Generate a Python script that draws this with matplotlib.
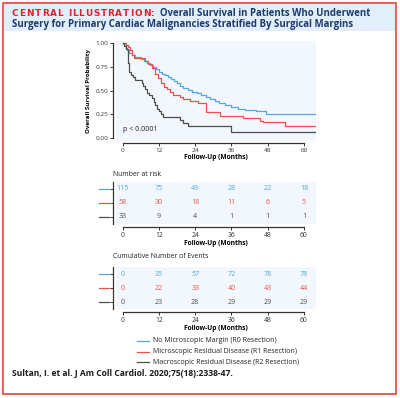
import matplotlib
matplotlib.use("Agg")
import matplotlib.pyplot as plt
from matplotlib.patches import Rectangle
from matplotlib.lines import Line2D
from matplotlib.transforms import blended_transform_factory

# ---------------- data ----------------
groups = ["No Microscopic Margin (R0 Resection)",
          "Microscopic Residual Disease (R1 Resection)",
          "Macroscopic Residual Disease (R2 Resection)"]

r0_time = [0, 0.5, 1.0, 1.5, 2.0, 3.0, 4.0, 5.0, 6.0, 7.0, 8.0, 9.0, 10.0, 11.0, 12.0,
           13.0, 14.0, 15.0, 16.0, 17.0, 18.0, 19.0, 20.0, 21.5, 23.0, 24.5, 26.0, 27.5,
           29.0, 30.5, 32.0, 34.0, 36.0, 38.0, 40.5, 44.0, 47.5, 64.0]
r0_surv = [1.0, 0.98, 0.95, 0.93, 0.90, 0.88, 0.86, 0.85, 0.83, 0.81, 0.79, 0.77, 0.75, 0.73, 0.70,
           0.68, 0.66, 0.64, 0.62, 0.60, 0.58, 0.55, 0.53, 0.51, 0.49, 0.47, 0.45, 0.43,
           0.41, 0.39, 0.37, 0.35, 0.33, 0.31, 0.295, 0.28, 0.255, 0.255]

r1_time = [0, 1.0, 1.8, 2.4, 3.0, 3.8, 7.4, 8.5, 9.6, 10.8, 11.8, 12.6, 13.8, 14.6, 15.5,
           16.6, 18.8, 20.0, 22.2, 24.9, 27.5, 32.2, 39.9, 45.4, 46.5, 53.6, 64.0]
r1_surv = [1.0, 0.983, 0.965, 0.93, 0.877, 0.84, 0.816, 0.78, 0.736, 0.68, 0.63, 0.58, 0.54, 0.514, 0.49,
           0.454, 0.43, 0.41, 0.39, 0.367, 0.278, 0.232, 0.208, 0.183, 0.166, 0.13, 0.13]

r2_time = [0, 0.5, 1.0, 1.9, 2.0, 2.6, 3.3, 4.0, 6.3, 6.8, 7.3, 8.0, 8.8, 9.6, 10.2, 10.8,
           11.4, 12.0, 12.8, 13.4, 18.9, 19.8, 21.7, 36.0, 64.0]
r2_surv = [1.0, 0.97, 0.94, 0.79, 0.70, 0.67, 0.64, 0.61, 0.58, 0.55, 0.52, 0.48, 0.45, 0.42, 0.38, 0.35,
           0.31, 0.28, 0.25, 0.22, 0.19, 0.16, 0.13, 0.065, 0.065]

time_ticks = [0, 12, 24, 36, 48, 60]
surv_ticks = [0.0, 0.25, 0.50, 0.75, 1.00]
surv_ticklabels = ["0.00", "0.25", "0.50", "0.75", "1.00"]

at_risk = [[115, 75, 49, 28, 22, 18],
           [58, 30, 18, 11, 6, 5],
           [33, 9, 4, 1, 1, 1]]
cum_events = [[0, 35, 57, 72, 78, 78],
              [0, 22, 33, 40, 43, 44],
              [0, 23, 28, 29, 29, 29]]

p_text = "p < 0.0001"
title_red = "CENTRAL ILLUSTRATION:"
title_l1 = "Overall Survival in Patients Who Underwent"
title_l2 = "Surgery for Primary Cardiac Malignancies Stratified By Surgical Margins"
citation = "Sultan, I. et al. J Am Coll Cardiol. 2020;75(18):2338-47."

# ---------------- style ----------------
colors = ["#58a6df", "#e8544c", "#4f4f4f"]
panel_bg = "#f1f7fc"
title_bg = "#e2eef9"
frame_red = "#e2564a"
dark_blue = "#1d3b6e"
FONT = "Open Sans"
plt.rcParams["font.family"] = [FONT, "DejaVu Sans"]

W, H = 400, 398
fig = plt.figure(figsize=(W / 100, H / 100), dpi=100)
renderer = fig.canvas.get_renderer()


def rect(l, t, r, b):
    return [l / W, 1 - b / H, (r - l) / W, (b - t) / H]


def ftext(x, y, s, **kw):
    return fig.text(x / W, 1 - y / H, s, **kw)


# frame & title background
fig.patches.append(Rectangle((4 / W, 1 - 31 / H), 392 / W, 27 / H, transform=fig.transFigure,
                             facecolor=title_bg, edgecolor="none", zorder=0))
fig.patches.append(Rectangle((3 / W, 1 - 394 / H), 393 / W, 391 / H, transform=fig.transFigure,
                             facecolor="none", edgecolor=frame_red, linewidth=1.3, zorder=5))

# letter-spaced red heading
red_kw = dict(color="#d8242b", fontsize=6.4, fontweight="bold", va="center", family="DejaVu Sans")
chars = []
widths = []
for ch in title_red:
    t = ftext(0, 13, ch, **red_kw)
    chars.append(t)
    if ch == " ":
        widths.append(renderer.points_to_pixels(6.4) * 0.32)
    else:
        widths.append(t.get_window_extent(renderer).width)
target = 143.0
gap = (target - sum(widths)) / (len(title_red) - 1)
x = 12.0
for t, w in zip(chars, widths):
    t.set_x(x / W)
    x += w + gap

ftext(160, 13, title_l1, color=dark_blue, fontsize=6.9, fontweight="bold", va="center")
ftext(12, 25, title_l2, color=dark_blue, fontsize=6.9, fontweight="bold", va="center")

# ---------------- KM plot ----------------
px_per_month = (304 - 122.7) / 60.0
x_lo = (116 - 122.7) / px_per_month
x_hi = (316 - 122.7) / px_per_month

ax = fig.add_axes(rect(116, 41, 316, 141))
ax.set_facecolor(panel_bg)
for t, s, c in zip([r0_time, r1_time, r2_time], [r0_surv, r1_surv, r2_surv], colors):
    ax.step(t, s, where="post", color=c, linewidth=0.9)
ax.set_xlim(x_lo, x_hi)
ax.set_ylim(-0.032, 1.024)
ax.set_xticks(time_ticks)
ax.set_yticks(surv_ticks)
ax.set_yticklabels(surv_ticklabels)
for sp in ["top", "right"]:
    ax.spines[sp].set_visible(False)
ax.spines["left"].set_position(("outward", 2.2))
ax.spines["bottom"].set_position(("outward", 1.5))
ax.spines["left"].set_bounds(0, 1)
ax.spines["bottom"].set_bounds(0, 60)
for sp in ["left", "bottom"]:
    ax.spines[sp].set_linewidth(0.9)
    ax.spines[sp].set_color("#333333")
ax.tick_params(labelsize=4.6, length=2, width=0.7, pad=1.2, colors="#333333")
ax.set_ylabel("Overall Survival Probability", fontsize=4.4, fontweight="bold", labelpad=3)
ax.set_xlabel("Follow-Up (Months)", fontsize=4.8, fontweight="bold", labelpad=1)
ax.text(0, 0.09, p_text, fontsize=5, color="#222222", va="center")


# ---------------- tables ----------------
def table(top, bottom, values, header, header_y):
    a = fig.add_axes(rect(116, top, 316, bottom))
    a.set_facecolor(panel_bg)
    a.set_xlim(x_lo, x_hi)
    a.set_ylim(2.5, -0.5)
    for i, row in enumerate(values):
        for t, v in zip(time_ticks, row):
            a.text(t, i, str(v), color=colors[i], fontsize=5.1, ha="center", va="center")
    a.set_xticks(time_ticks)
    a.set_yticks([0, 1, 2])
    a.set_yticklabels([])
    for sp in ["top", "right"]:
        a.spines[sp].set_visible(False)
    a.spines["left"].set_position(("outward", 2.2))
    a.spines["bottom"].set_position(("outward", 2.5))
    a.spines["bottom"].set_bounds(0, 60)
    for sp in ["left", "bottom"]:
        a.spines[sp].set_linewidth(0.9)
        a.spines[sp].set_color("#333333")
    a.tick_params(labelsize=4.9, length=2, width=0.7, pad=1.2, colors="#333333")
    a.set_xlabel("Follow-Up (Months)", fontsize=4.8, fontweight="bold", labelpad=1)
    tr = blended_transform_factory(fig.transFigure, a.transData)
    for i, c in enumerate(colors):
        a.add_line(Line2D([99 / W, 109 / W], [i, i], transform=tr, color=c,
                          linewidth=0.9, clip_on=False))
    ftext(113, header_y, header, fontsize=4.95, color="#222222", va="center")
    return a


table(182, 224, at_risk, "Number at risk", 175)
table(267, 309, cum_events, "Cumulative Number of Events", 257)

# ---------------- legend ----------------
for i, (g, c) in enumerate(zip(groups, colors)):
    y = [341, 351.5, 362][i]
    fig.add_artist(Line2D([137 / W, 149 / W], [1 - y / H] * 2, transform=fig.transFigure,
                          color=c, linewidth=0.9))
    ftext(153, y, g, fontsize=5.0, color="#222222", va="center")

ftext(12, 373, citation, fontsize=6.1, fontweight="bold", color="#1a1a1a", va="center")

fig.savefig("out.png", dpi=100)
